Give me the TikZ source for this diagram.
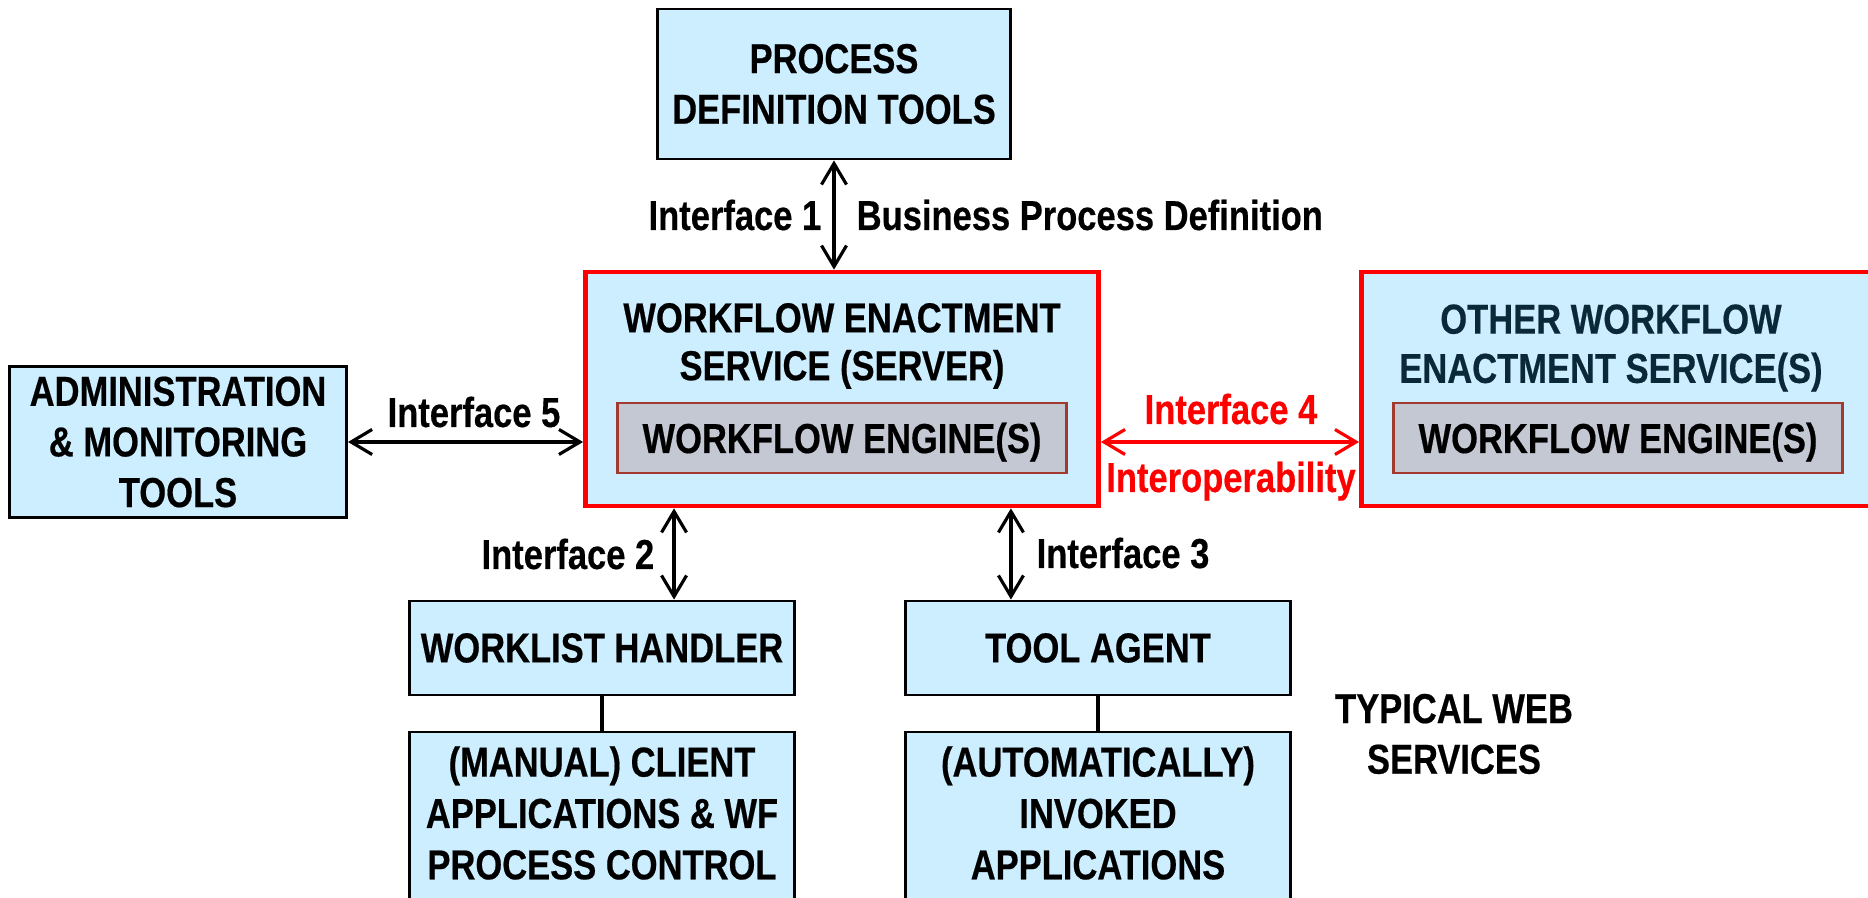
\documentclass[tikz,border=0pt]{standalone}
\usepackage{fontspec}
\setmainfont{Liberation Sans}[FakeStretch=0.825, BoldFeatures={FakeBold=0.4}]
\usepackage{tikz}
\usetikzlibrary{arrows.meta}
\definecolor{boxblue}{HTML}{CCEEFF}
\definecolor{enginegray}{HTML}{C3C8D3}
\definecolor{enginered}{HTML}{A33A2E}
\definecolor{navy}{HTML}{0B2838}
\newcommand{\boxfont}{\bfseries\fontsize{11.9}{14.4}\selectfont}
\tikzstyle{bluebox} = [rectangle, draw=black, line width=0.8pt, fill=boxblue, inner sep=0pt, align=center, font=\boxfont]
\tikzstyle{servicebox} = [rectangle, draw=red, line width=1.3pt, fill=boxblue, minimum width=5.13cm, minimum height=2.34cm]
\tikzstyle{enginebox} = [rectangle, draw=enginered, line width=0.7pt, fill=enginegray, minimum width=4.49cm, minimum height=0.7cm, text height=0.3cm, text depth=0pt, font=\boxfont]
\tikzstyle{boxtitle} = [align=center, inner sep=0pt, font=\boxfont]
\tikzstyle{iface} = [inner sep=0pt, text height=0.3cm, text depth=0pt, font=\boxfont]
\tikzstyle{arrow} = [line width=0.9pt,<->,>={Straight Barb[length=2.1mm,width=2.5mm]}]
\tikzstyle{link} = [line width=0.9pt]

\begin{document}
\begin{tikzpicture}[x=0.01cm, y=-0.01cm]
\useasboundingbox (0,0) rectangle (1868,898);
\clip (0,0) rectangle (1868,898);

\node (pdt) [bluebox, minimum width=3.52cm, minimum height=1.5cm] at (834,84) {PROCESS\\DEFINITION TOOLS};
\node (wes) [servicebox] at (842,389) {};
\node (westitle) [boxtitle, font=\bfseries\fontsize{11.9}{13.6}\selectfont] at (842,346) {WORKFLOW ENACTMENT\\SERVICE (SERVER)};
\node (weseng) [enginebox] at (842,438) {WORKFLOW ENGINE(S)};
\node (other) [servicebox] at (1618,389) {};
\node (othertitle) [boxtitle, text=navy, font=\bfseries\fontsize{11.9}{14}\selectfont] at (1611,348) {OTHER WORKFLOW\\ENACTMENT SERVICE(S)};
\node (othereng) [enginebox] at (1618,438) {WORKFLOW ENGINE(S)};
\node (admin) [bluebox, minimum width=3.37cm, minimum height=1.51cm] at (178,442) {ADMINISTRATION\\\& MONITORING\\TOOLS};
\node (worklist) [bluebox, minimum width=3.85cm, minimum height=0.94cm] at (602,648) {WORKLIST HANDLER};
\node (toolagent) [bluebox, minimum width=3.84cm, minimum height=0.94cm] at (1098,648) {TOOL AGENT};
\node (client) [bluebox, minimum width=3.85cm, minimum height=2.1cm] at (602,837) {};
\node (clienttext) [boxtitle, font=\bfseries\fontsize{11.9}{14.6}\selectfont] at (602,813) {(MANUAL) CLIENT\\APPLICATIONS \& WF\\PROCESS CONTROL};
\node (invoked) [bluebox, minimum width=3.84cm, minimum height=2.1cm] at (1098,837) {};
\node (invokedtext) [boxtitle, font=\bfseries\fontsize{11.9}{14.6}\selectfont] at (1098,813) {(AUTOMATICALLY)\\INVOKED\\APPLICATIONS};
\node (typical) [boxtitle] at (1454,734) {TYPICAL WEB\\SERVICES};

% interface labels
\node (if1) [iface, anchor=east] at (822,215) {Interface 1};
\node (bpd) [iface, anchor=west] at (856,215) {Business Process Definition};
\node (if5) [iface] at (474,412) {Interface 5};
\node (if4) [iface, text=red] at (1231,409) {Interface 4};
\node (interop) [iface, text=red] at (1231,477) {Interoperability};
\node (if2) [iface, anchor=east] at (655,554) {Interface 2};
\node (if3) [iface, anchor=west] at (1036,553) {Interface 3};

\draw [arrow] (pdt.south) -- (pdt.south |- wes.north);
\draw [arrow] (admin.east) -- (admin.east -| wes.west);
\draw [arrow, red] (wes.east |- admin.east) -- (other.west |- admin.east);
\draw [arrow] ([xshift=0.72cm]worklist.north) -- ([xshift=0.72cm]worklist.north |- wes.south);
\draw [arrow] ([xshift=-0.87cm]toolagent.north) -- ([xshift=-0.87cm]toolagent.north |- wes.south);
\draw [link] (worklist) -- (client);
\draw [link] (toolagent) -- (invoked);
\end{tikzpicture}
\end{document}
